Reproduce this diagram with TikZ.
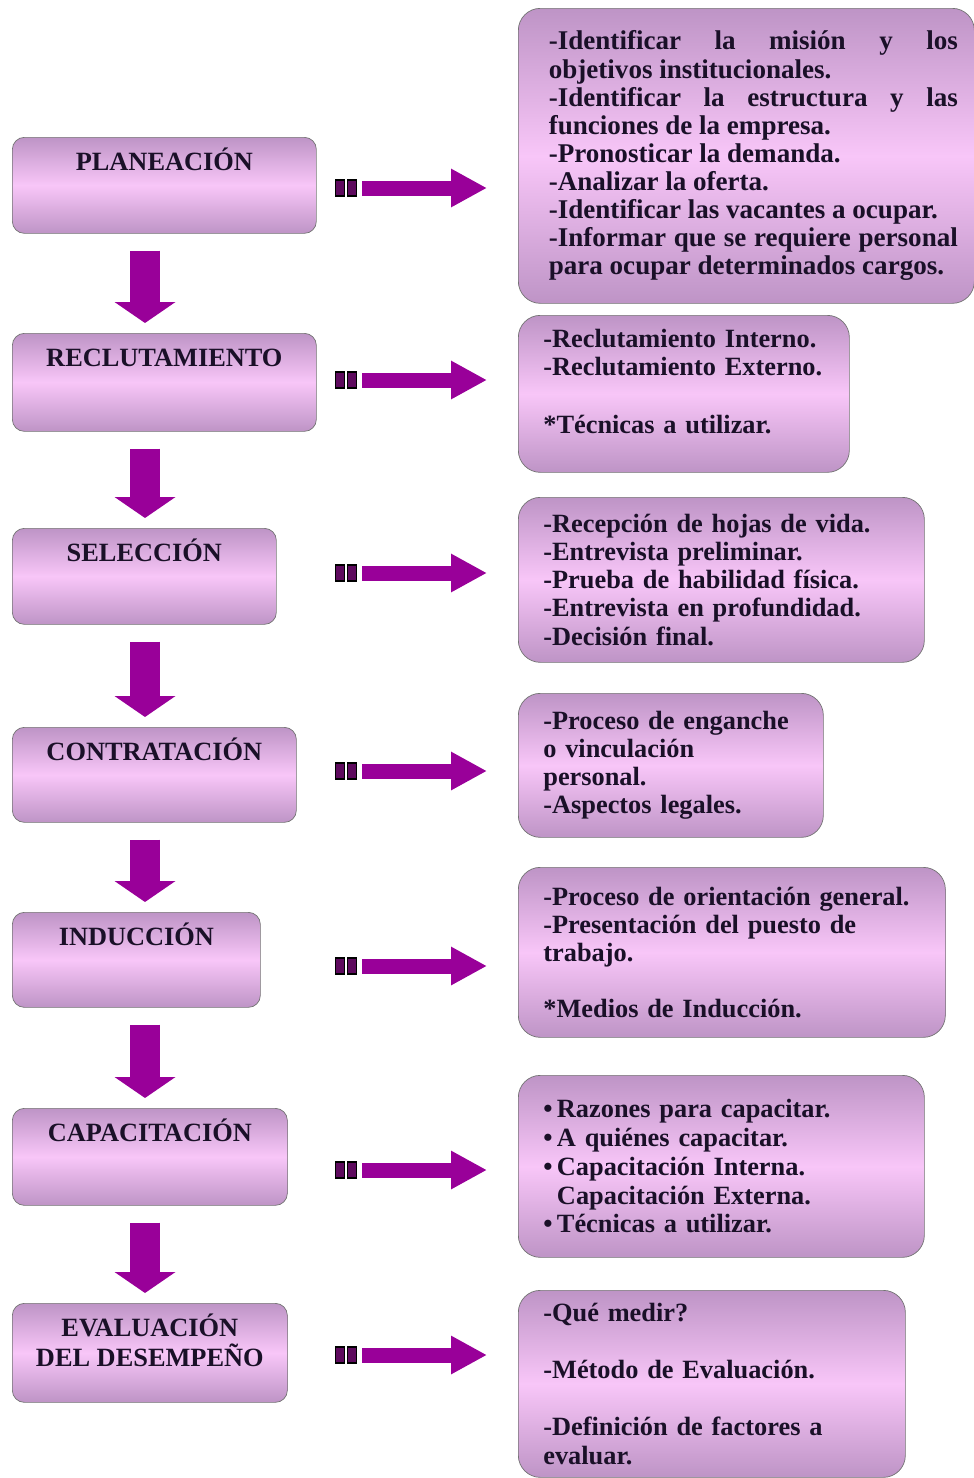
\documentclass[tikz,border=0pt]{standalone}
\usepackage{fontspec}
\setmainfont{Liberation Serif}
\usetikzlibrary{arrows.meta}
\setlength{\parindent}{0pt}
\newdimen\pu
\pu=0.02cm
\definecolor{boxedge}{HTML}{BE94C6}
\definecolor{boxmid}{HTML}{F8C6F8}
\definecolor{arrowcol}{HTML}{990099}
\definecolor{tailcol}{HTML}{5E0A5E}
\definecolor{inkcol}{HTML}{1A1028}
\tikzset{
  stage/.style={draw=black!55,rounded corners=12\pu,top color=boxedge,bottom color=boxedge,
    middle color=boxmid,anchor=north west,inner sep=0,align=center,text=inkcol,
    font=\fontsize{15}{17}\selectfont\bfseries,text height=33\pu},
  detail/.style={draw=black!55,rounded corners=22\pu,top color=boxedge,bottom color=boxedge,
    middle color=boxmid,anchor=north west,inner sep=0,align=left,text=inkcol,
    font=\fontsize{15}{16}\selectfont\bfseries},
  downarrow/.style={draw=arrowcol,line width=0.6cm,-{Triangle[length=0.42cm,width=1.2cm]},
    shorten <=0.34cm,shorten >=0.2cm},
  rightarrow/.style={draw=arrowcol,line width=0.3cm,-{Triangle[length=0.72cm,width=0.72cm]},
    shorten >=0.62cm},
  tailbox/.style={draw=black,fill=tailcol,line width=0.6pt,minimum width=0.18cm,
    minimum height=0.32cm,inner sep=0}
}

\begin{document}
\begin{tikzpicture}[x=1\pu,y=-1\pu]
\useasboundingbox (0,0) rectangle (974,1478);

% left column
\node[stage,minimum width=304\pu,text depth=63\pu] (plan) at (12,137) {PLANEACIÓN};
\node[stage,minimum width=304\pu,text depth=65\pu] (recl) at (12,333) {RECLUTAMIENTO};
\node[stage,minimum width=264\pu,text depth=63\pu] (sele) at (12,528) {SELECCIÓN};
\node[stage,minimum width=284\pu,text depth=62\pu] (cont) at (12,727) {CONTRATACIÓN};
\node[stage,minimum width=248\pu,text depth=62\pu] (indu) at (12,912) {INDUCCIÓN};
\node[stage,minimum width=275\pu,text depth=64\pu] (capa) at (12,1108) {CAPACITACIÓN};
\node[stage,minimum width=275\pu,text depth=36\pu,text height=63\pu] (eval) at (12,1303)
  {EVALUACIÓN\\DEL DESEMPEÑO};

% right column
\node[detail,minimum width=456\pu,minimum height=295\pu,text width=423\pu,align=justify,
  font=\fontsize{15.4}{16}\selectfont\bfseries] (plan-d) at (518,8)
  {\leftskip=14\pu
   -Identificar la misión y los\linebreak objetivos institucionales.\par
   -Identificar la estructura y las\linebreak funciones de la empresa.\par
   -Pronosticar la demanda.\par
   -Analizar la oferta.\par
   -Identificar las vacantes a ocupar.\par
   -Informar que se requiere personal\linebreak para ocupar determinados cargos.\par};
\node[detail,minimum width=331\pu,minimum height=157\pu,text width=281\pu] (recl-d) at (518,315)
  {-Reclutamiento Interno.\\-Reclutamiento Externo.\\[17pt]*Técnicas a utilizar.\\[-2pt]\mbox{}};
\node[detail,minimum width=406\pu,minimum height=165\pu,text width=356\pu] (sele-d) at (518,497)
  {-Recepción de hojas de vida.\\-Entrevista preliminar.\\-Prueba de habilidad física.\\
   -Entrevista en profundidad.\\-Decisión final.};
\node[detail,minimum width=305\pu,minimum height=144\pu,text width=255\pu] (cont-d) at (518,693)
  {-Proceso de enganche\\o vinculación\\personal.\\-Aspectos legales.};
\node[detail,minimum width=427\pu,minimum height=170\pu,text width=377\pu] (indu-d) at (518,867)
  {-Proceso de orientación general.\\-Presentación del puesto de\\trabajo.\\[16pt]*Medios de Inducción.};
\node[detail,minimum width=406\pu,minimum height=182\pu,text width=356\pu,
  font=\fontsize{15}{16.4}\selectfont\bfseries] (capa-d) at (518,1075)
  {\textbullet\,Razones para capacitar.\\\textbullet\,A quiénes capacitar.\\
   \textbullet\,Capacitación Interna.\\\phantom{\textbullet\,}Capacitación Externa.\\
   \textbullet\,Técnicas a utilizar.};
\node[detail,minimum width=387\pu,minimum height=187\pu,text width=337\pu,
  font=\fontsize{15}{16.4}\selectfont\bfseries] (eval-d) at (518,1290)
  {-Qué medir?\\[16pt]-Método de Evaluación.\\[16pt]-Definición de factores a\\evaluar.};

% down arrows
\coordinate (spine) at (145,0);
\foreach \a/\b in {plan/recl,recl/sele,sele/cont,cont/indu,indu/capa,capa/eval}
  \draw[downarrow] (\a.south -| spine) -- (\b.north -| spine);

% right arrows
\foreach \s/\y in {plan/188,recl/380,sele/573,cont/771,indu/966,capa/1170,eval/1355}{
  \node[tailbox] (\s-t1) at (340,\y) {};
  \node[tailbox] (\s-t2) at (352,\y) {};
  \coordinate (\s-a) at (362,\y);
  \draw[rightarrow] (\s-a) -- (\s-a -| \s-d.west);
}
\end{tikzpicture}
\end{document}
